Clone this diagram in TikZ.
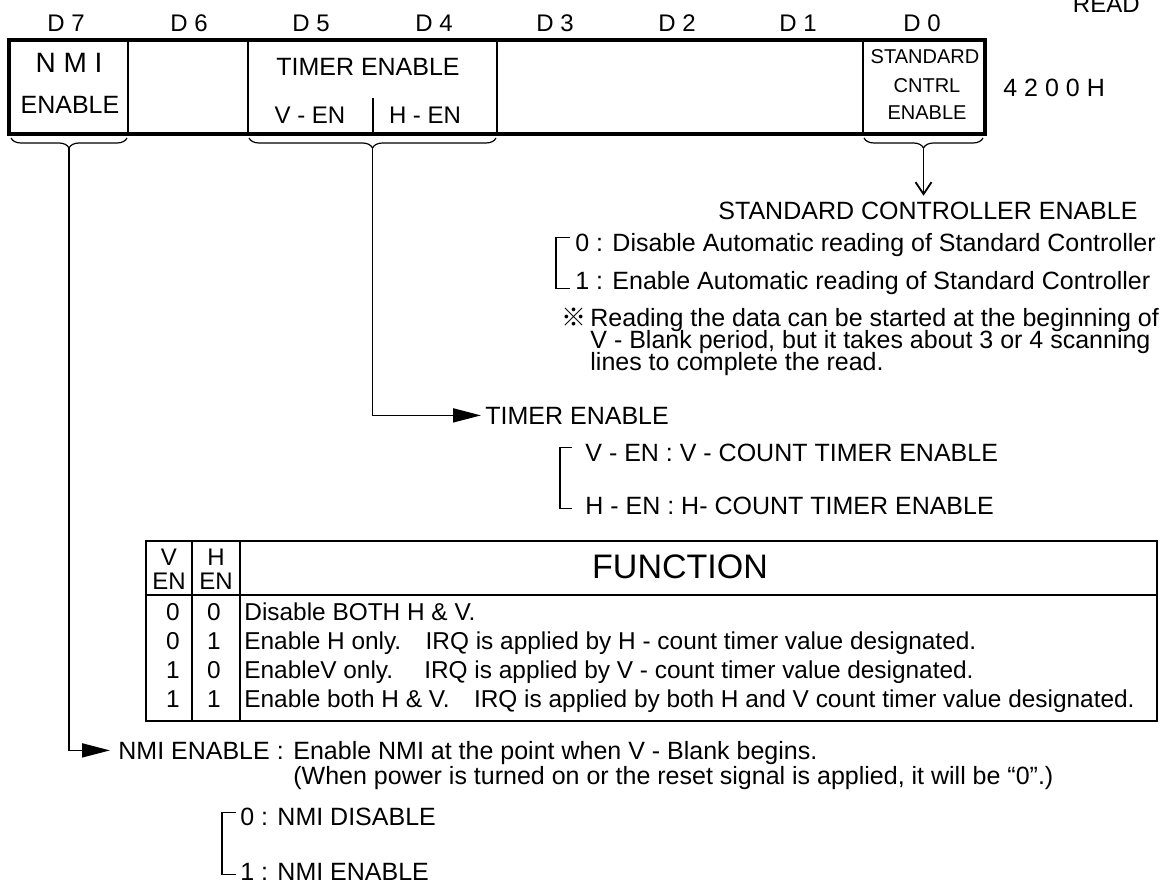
\documentclass[tikz,border=0pt]{standalone}
\usepackage{fontspec}
\setmainfont{Liberation Sans}
\newfontfamily\cjkfont{Noto Sans CJK JP}
\usetikzlibrary{positioning,arrows.meta,decorations.pathreplacing,calc}

\begin{document}
\begin{tikzpicture}[
    x=0.5pt, y=-0.5pt,
    font=\fontsize{12.5}{14}\selectfont,
    cell/.style  = {draw, line width=1pt, minimum height=46pt, inner sep=0pt},
    lbl/.style   = {inner sep=0pt, font=\fontsize{12}{14}\selectfont},
    txt/.style   = {inner sep=0pt, anchor=base west},
    row/.style   = {inner sep=0pt, font=\fontsize{12.2}{14}\selectfont},
    brc/.style   = {decorate, decoration={brace, mirror, amplitude=5pt},
                    line width=0.6pt},
    fat/.style   = {-{Triangle[length=14pt, width=7pt]}, line width=0.9pt},
    barb/.style  = {-{Straight Barb[length=6pt, width=8pt]}, line width=0.9pt},
    bkt/.style   = {line width=0.8pt},
    tline/.style = {line width=0.9pt},
]
\useasboundingbox (0,0) rectangle (1163,883);

%============================ REGISTER ==============================
\node[lbl, anchor=base east] (rd) at (1140,13) {READ};
\foreach \b/\x in {7/66, 6/189, 5/311, 4/434, 3/555, 2/677, 1/798, 0/922}
  \node[lbl] (D\b) at (\x,23) {D \b};

\node[cell, minimum width=59pt]    (d7)  at (69,87)    {};
\node[cell, minimum width=60pt]    (d6)  at (188,87)   {};
\node[cell, minimum width=124.5pt] (d54) at (372.5,87) {};
\node[cell, minimum width=183pt]   (d31) at (680,87)   {};
\node[cell, minimum width=60.5pt]  (d0)  at (923.5,87) {};
\draw[line width=1.6pt] (d7.north west) rectangle (d0.south east);
\draw[line width=1pt] (d54.south) -- ++(0,-36);

\node[inner sep=0pt, font=\fontsize{14}{16}\selectfont] (nmi) at (69,63) {N M I};
\node[inner sep=0pt] (nmie) at (70,105) {ENABLE};
\node[inner sep=0pt] (tmr) at (368,67) {TIMER ENABLE};
\node[lbl] (ven) at (310,115) {V - EN};
\node[lbl] (hen) at (425,115) {H - EN};
\node[inner sep=0pt, font=\fontsize{10}{12}\selectfont] (std) at (925,57) {STANDARD};
\node[inner sep=0pt, font=\fontsize{10}{12}\selectfont] (cnt) at (927,86) {CNTRL};
\node[inner sep=0pt, font=\fontsize{10}{12}\selectfont] (sen) at (927,113) {ENABLE};
\node[txt, anchor=west] (addr) at (1003,88) {4 2 0 0 H};

%============================ BRACES ================================
\draw[brc] ([xshift=1pt,yshift=-2pt]d7.south west)
        -- ([xshift=-1pt,yshift=-2pt]d7.south east);
\draw[brc] ([xshift=1pt,yshift=-2pt]d54.south west)
        -- ([xshift=-1pt,yshift=-2pt]d54.south east);
\draw[brc] ([xshift=1pt,yshift=-2pt]d0.south west)
        -- ([xshift=-1pt,yshift=-2pt]d0.south east);
\coordinate (k7)  at ([yshift=-7pt]d7.south);
\coordinate (k54) at ([yshift=-7pt]d54.south);
\coordinate (k0)  at ([yshift=-7pt]d0.south);

%===================== STANDARD CONTROLLER ENABLE ===================
\node[inner sep=0pt] (ctl) at (928,211) {STANDARD CONTROLLER ENABLE};
\draw[barb, shorten >=3pt] (k0) -- (k0 |- ctl.north);

\node[txt] (c0) at (575,251)
      {0 : Disable Automatic reading of Standard Controller};
\node[txt] (c1) at (575,289)
      {1 : Enable Automatic reading of Standard Controller};
\draw[bkt] ($(c0.west)+(-5,-7)$) -- ++(-14,0) |- ($(c1.west)+(-5,6)$);

\node[inner sep=0pt, font=\cjkfont\fontsize{12.5}{14}\selectfont]
      (kome) at (574,317) {※};
\node[txt] (n1) at (590,326)
      {Reading the data can be started at the beginning of};
\node[txt] (n2) at (590,348)
      {V - Blank period, but it takes about 3 or 4 scanning};
\node[txt] (n3) at (590,370) {lines to complete the read.};

%============================ TIMER ENABLE ==========================
\node[txt] (tlb) at (485,424) {TIMER ENABLE};
\draw[fat, shorten >=2pt] (k54) |- (tlb.west);

\node[txt] (tv) at (585,461) {V - EN : V - COUNT TIMER ENABLE};
\node[txt] (th) at (585,514) {H - EN : H- COUNT TIMER ENABLE};
\draw[bkt] ($(tv.west)+(-13,-5)$) -- ++(-12,0) |- ($(th.west)+(-13,3)$);

%============================ TABLE =================================
\coordinate (tnw) at (146,541);
\coordinate (tse) at (1157,721);
\draw[line width=1.2pt] (tnw) rectangle (tse);
\draw[tline] (146,595) -- (1157,595);
\draw[tline] (192,541) -- (192,721);
\draw[tline] (240,541) -- (240,721);

\node[lbl] (hv)  at (169,557) {V};
\node[lbl] (hve) at (169,581) {EN};
\node[lbl] (hh)  at (216,557) {H};
\node[lbl] (hhe) at (216,581) {EN};
\node[inner sep=0pt, font=\fontsize{17}{20}\selectfont] (fn) at (680,567) {FUNCTION};

\foreach \v/\h/\fn [count=\i] in {
    0/0/{Disable BOTH H \& V.},
    0/1/{Enable H only.\quad IRQ is applied by H - count timer value designated.},
    1/0/{EnableV only.\quad\ IRQ is applied by V - count timer value designated.},
    1/1/{Enable both H \& V.\quad IRQ is applied by both H and V count timer value designated.}}
{
  \pgfmathsetmacro{\ry}{591+29*\i}
  \node[row, anchor=base] (v\i) at (173,\ry) {\v};
  \node[row, anchor=base] (h\i) at (214,\ry) {\h};
  \node[row, anchor=base west] (f\i) at (244,\ry) {\fn};
}

%============================ NMI ENABLE ============================
\node[txt] (nlb) at (118,759) {NMI ENABLE :};
\draw[fat, shorten >=4pt] (k7) |- (nlb.west);
\node[txt] (nd1) at (293,759) {Enable NMI at the point when V - Blank begins.};
\node[txt] (nd2) at (293,784)
      {(When power is turned on or the reset signal is applied, it will be “0”.)};

\node[txt] (m0) at (240,825) {0 : NMI DISABLE};
\node[txt] (m1) at (240,880) {1 : NMI ENABLE};
\draw[bkt] ($(m0.west)+(-4,-4)$) -- ++(-14,0) |- ($(m1.west)+(-4,3)$);

\end{tikzpicture}
\end{document}
